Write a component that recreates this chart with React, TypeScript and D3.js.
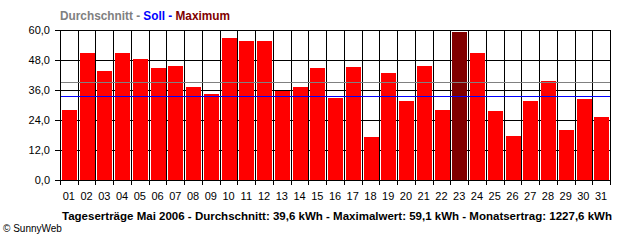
import React from "react";
import * as d3 from "d3";

const days = ["01","02","03","04","05","06","07","08","09","10","11","12","13","14","15","16","17","18","19","20","21","22","23","24","25","26","27","28","29","30","31"];
const values = [28.0,50.8,43.6,50.8,48.4,44.8,45.6,37.2,34.4,56.8,55.6,55.6,35.7,37.2,44.8,32.8,45.2,17.2,42.8,31.6,45.6,28.0,59.1,50.8,27.6,17.6,31.6,39.6,20.0,32.4,25.2];
const yTicks = [0, 12, 24, 36, 48, 60];
const avgLine = 39.2;
const sollLine = 33.5;
const caption = "Tageserträge Mai 2006 - Durchschnitt: 39,6 kWh - Maximalwert: 59,1 kWh - Monatsertrag: 1227,6 kWh";

const W = 640, H = 240;
const left = 60, right = 610, top = 30, bottom = 180;
const font = "'Liberation Sans', Arial, sans-serif";

export default function App() {
  const x = d3.scaleBand<string>().domain(days).range([left, right]).paddingInner(0).paddingOuter(0);
  const y = d3.scaleLinear().domain([0, 60]).range([bottom, top]);
  const bw = x.bandwidth();
  const maxV = d3.max(values) as number;
  const fmt = (v: number) => v.toFixed(1).replace(".", ",");
  const boundaries = days.map((d) => x(d) as number).concat([right]);

  return (
    <svg width={W} height={H} style={{ position: "absolute", left: 0, top: 0, background: "#fff" }} shapeRendering="crispEdges">
      <rect x={0} y={0} width={W} height={H} fill="#fff" />
      <text x={left} y={20} fontFamily={font} fontSize={12} fontWeight="bold" textLength={170} lengthAdjust="spacingAndGlyphs">
        <tspan fill="#808080">Durchschnitt - </tspan>
        <tspan fill="#0000ff">Soll - </tspan>
        <tspan fill="#800000">Maximum</tspan>
      </text>
      {boundaries.map((bx, i) => (
        <line key={"v" + i} x1={Math.round(bx) + 0.5} x2={Math.round(bx) + 0.5} y1={top} y2={bottom + 5} stroke="#000" />
      ))}
      {yTicks.map((t) => (
        <g key={"h" + t}>
          <line x1={left - 5} x2={right} y1={Math.round(y(t)) + 0.5} y2={Math.round(y(t)) + 0.5} stroke="#000" />
          <text x={50} y={y(t) + 4} textAnchor="end" fontFamily={font} fontSize={11} fill="#000">{fmt(t)}</text>
        </g>
      ))}
      {values.map((v, i) => {
        const bx = x(days[i]) as number;
        return (
          <rect key={"b" + i} x={Math.round(bx + 2)} y={Math.round(y(v))} width={Math.round(bw - 3)} height={Math.round(bottom - y(v))}
            fill={v === maxV ? "#800000" : "#ff0000"} />
        );
      })}
      <line x1={left} x2={right} y1={Math.round(y(avgLine)) + 0.5} y2={Math.round(y(avgLine)) + 0.5} stroke="#808080" />
      <line x1={left} x2={right} y1={Math.round(y(sollLine)) + 0.5} y2={Math.round(y(sollLine)) + 0.5} stroke="#0000ff" />
      <line x1={left + 0.5} x2={left + 0.5} y1={top} y2={bottom + 5} stroke="#000" />
      <line x1={left - 5} x2={right + 1} y1={bottom + 0.5} y2={bottom + 0.5} stroke="#000" />
      {days.map((d) => (
        <text key={"xl" + d} x={(x(d) as number) + bw / 2} y={200} textAnchor="middle" fontFamily={font} fontSize={11} fill="#000">{d}</text>
      ))}
      <text x={62} y={220} fontFamily={font} fontSize={11} fontWeight="bold" fill="#000" textLength={550} lengthAdjust="spacingAndGlyphs">{caption}</text>
      <text x={3} y={232} fontFamily={font} fontSize={10} fill="#000">© SunnyWeb</text>
    </svg>
  );
}
